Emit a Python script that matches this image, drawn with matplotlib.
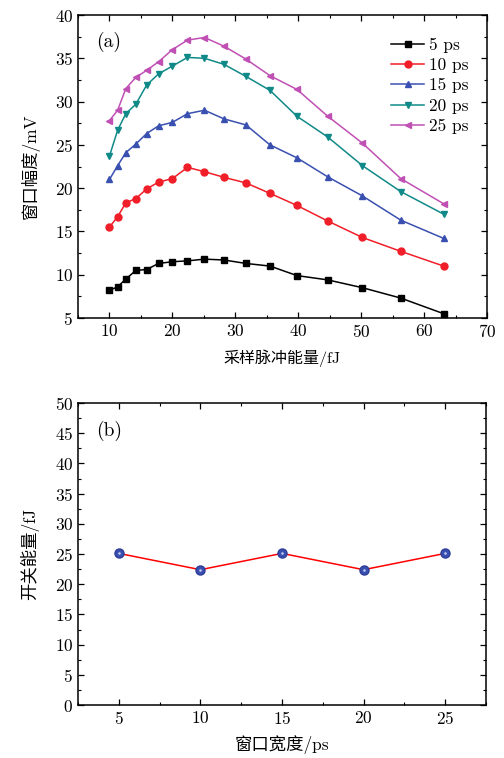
import numpy as np
import matplotlib
matplotlib.use("Agg")
import matplotlib.pyplot as plt
from matplotlib.ticker import MultipleLocator

plt.rcParams['font.family'] = ['cmr10', 'Noto Sans CJK SC', 'DejaVu Sans']
plt.rcParams['axes.formatter.use_mathtext'] = True
plt.rcParams['axes.unicode_minus'] = False

# 采样脉冲能量 / fJ
energy = [10, 11.3, 12.6, 14.2, 15.9, 17.8, 20, 22.4, 25.1, 28.2, 31.7, 35.5,
          39.8, 44.7, 50.2, 56.3, 63.1]

amp_5ps = [8.2, 8.6, 9.5, 10.5, 10.6, 11.3, 11.5, 11.6, 11.8, 11.7, 11.3, 11.0,
           9.9, 9.4, 8.5, 7.3, 5.5]
amp_10ps = [15.5, 16.7, 18.3, 18.8, 19.9, 20.7, 21.1, 22.4, 21.9, 21.25, 20.6, 19.4,
            18.0, 16.2, 14.3, 12.7, 11.0]
amp_15ps = [21.0, 22.6, 24.1, 25.1, 26.3, 27.2, 27.6, 28.6, 29.0, 28.0, 27.3, 25.0,
            23.5, 21.3, 19.1, 16.3, 14.2]
amp_20ps = [23.7, 26.7, 28.6, 29.7, 31.9, 33.2, 34.1, 35.1, 35.0, 34.3, 32.9, 31.3,
            28.3, 25.9, 22.6, 19.6, 17.0]
amp_25ps = [27.8, 29.0, 31.5, 32.8, 33.6, 34.6, 36.0, 37.1, 37.4, 36.4, 34.9, 33.0,
            31.4, 28.3, 25.2, 21.1, 18.2]

series = [
    ('5 ps', amp_5ps, 'black', 's'),
    ('10 ps', amp_10ps, '#f01e28', 'o'),
    ('15 ps', amp_15ps, '#3a50b0', '^'),
    ('20 ps', amp_20ps, '#108a88', 'v'),
    ('25 ps', amp_25ps, '#c050b4', '<'),
]

# 窗口宽度 / ps  vs 开关能量 / fJ
width = [5, 10, 15, 20, 25]
switch_energy = [25.1, 22.4, 25.1, 22.4, 25.1]

fig = plt.figure(figsize=(5.04, 7.58), dpi=100)
ax1 = fig.add_axes([78/504, 1-318/758, 409/504, 303/758])
ax2 = fig.add_axes([78/504, 1-705/758, 408/504, 302/758])

for name, y, c, m in series:
    ax1.plot(energy, y, color=c, marker=m, markersize=5, linewidth=1.1, label=name)

ax1.set_xlim(5, 70)
ax1.set_ylim(5, 40)
ax1.xaxis.set_major_locator(MultipleLocator(10))
ax1.xaxis.set_minor_locator(MultipleLocator(5))
ax1.yaxis.set_major_locator(MultipleLocator(5))
ax1.yaxis.set_minor_locator(MultipleLocator(2.5))
ax1.set_xlabel('采样脉冲能量/fJ', fontsize=11.5, labelpad=7)
ax1.set_ylabel('窗口幅度/mV', fontsize=12.5, labelpad=11)
ax1.text(0.045, 0.895, '(a)', transform=ax1.transAxes, fontsize=14)
ax1.legend(loc='upper right', bbox_to_anchor=(0.985, 0.965), frameon=False, fontsize=12.5,
           handlelength=1.9, handletextpad=0.3, labelspacing=0.28, borderpad=0.2)

ax2.plot(width, switch_energy, color='red', linewidth=1.1, zorder=2)
ax2.plot(width, switch_energy, linestyle='none', marker='o', markersize=6.5,
         color='#3a50b0', markeredgecolor='#2c3c98', zorder=3)
ax2.plot(width, switch_energy, linestyle='none', marker='o', markersize=1.8,
         color='#c8d0f0', markeredgewidth=0, zorder=4)
ax2.set_xlim(2.5, 27.5)
ax2.set_ylim(0, 50)
ax2.xaxis.set_major_locator(MultipleLocator(5))
ax2.xaxis.set_minor_locator(MultipleLocator(2.5))
ax2.yaxis.set_major_locator(MultipleLocator(5))
ax2.yaxis.set_minor_locator(MultipleLocator(2.5))
ax2.set_xlabel('窗口宽度/ps', fontsize=12.5, labelpad=6)
ax2.set_ylabel('开关能量/fJ', fontsize=12.5, labelpad=11)
ax2.text(0.045, 0.89, '(b)', transform=ax2.transAxes, fontsize=14)

for ax in (ax1, ax2):
    ax.tick_params(which='both', direction='in', top=True, right=True, labelsize=12.5)
    ax.tick_params(which='major', length=4, width=0.9)
    ax.tick_params(which='minor', length=2.5, width=0.8)
    for s in ax.spines.values():
        s.set_linewidth(1.1)

fig.savefig('out.png', dpi=100)
